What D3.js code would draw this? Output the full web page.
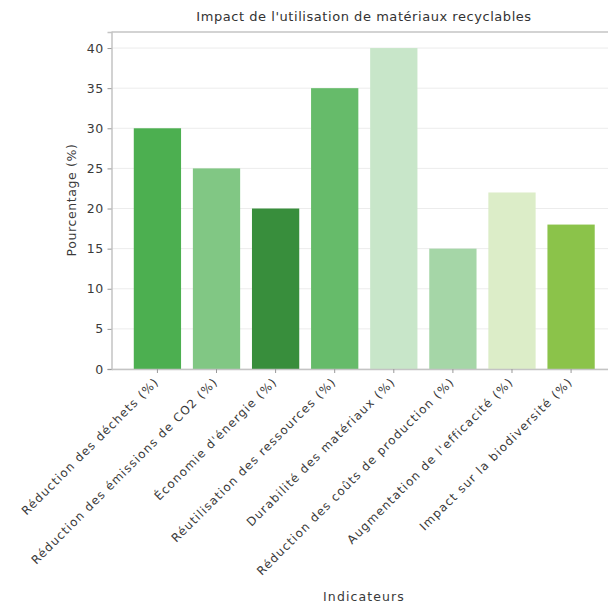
<!DOCTYPE html>
<html>
<head>
<meta charset="utf-8">
<script src="https://cdn.jsdelivr.net/npm/d3@7"></script>
<style>
  html, body { margin: 0; padding: 0; background: #fff; overflow: hidden; }
  svg { display: block; }
  text { font-family: "DejaVu Sans", "Open Sans", sans-serif; fill: #333; }
</style>
</head>
<body>
<svg id="chart" width="608" height="603"></svg>
<script>
// Indicator categories and their percentages
const categories = [
  "Réduction des déchets (%)",
  "Réduction des émissions de CO2 (%)",
  "Économie d'énergie (%)",
  "Réutilisation des ressources (%)",
  "Durabilité des matériaux (%)",
  "Réduction des coûts de production (%)",
  "Augmentation de l'efficacité (%)",
  "Impact sur la biodiversité (%)"
];
const values = [30, 25, 20, 35, 40, 15, 22, 18];
const barColors = ["#4CAF50", "#81C784", "#388E3C", "#66BB6A", "#C8E6C9", "#A5D6A7", "#DCEDC8", "#8BC34A"];
const yTicks = [0, 5, 10, 15, 20, 25, 30, 35, 40];

const title = "Impact de l'utilisation de matériaux recyclables";
const xTitle = "Indicateurs";
const yTitle = "Pourcentage (%)";

const svg = d3.select("#chart");
const plot = { left: 111.5, right: 617, top: 32, bottom: 369 };

const x = d3.scaleBand()
  .domain(categories)
  .range([plot.left, plot.right])
  .paddingInner(0.2)
  .paddingOuter(0.377);

const y = d3.scaleLinear()
  .domain([0, 42])
  .range([plot.bottom, plot.top]);

// horizontal grid
svg.append("g")
  .selectAll("line")
  .data(yTicks)
  .join("line")
  .attr("x1", plot.left)
  .attr("x2", plot.right)
  .attr("y1", d => y(d))
  .attr("y2", d => y(d))
  .attr("stroke", "#ececec")
  .attr("stroke-width", 1);

// bars
svg.append("g")
  .selectAll("rect")
  .data(values)
  .join("rect")
  .attr("x", (d, i) => x(categories[i]))
  .attr("y", d => y(d))
  .attr("width", x.bandwidth())
  .attr("height", d => y(0) - y(d))
  .attr("fill", (d, i) => barColors[i]);

// frame: top and right spines
const spine = "#c4c4c4";
svg.append("line").attr("x1", plot.left).attr("x2", plot.right).attr("y1", plot.top).attr("y2", plot.top)
  .attr("stroke", spine).attr("stroke-width", 1.5);
svg.append("line").attr("x1", plot.right).attr("x2", plot.right).attr("y1", plot.top).attr("y2", plot.bottom)
  .attr("stroke", spine).attr("stroke-width", 1.5);

// y axis
const yAxis = svg.append("g")
  .attr("transform", `translate(${plot.left},0)`)
  .call(d3.axisLeft(y).tickValues(yTicks).tickSize(4).tickPadding(4));
yAxis.select(".domain").attr("stroke", spine).attr("stroke-width", 1.5);
yAxis.selectAll(".tick line").attr("stroke", "#999");
yAxis.selectAll(".tick text")
  .attr("font-size", 12.5)
  .style("letter-spacing", "0.4px")
  .style("fill", "#3a3a3a");

// x axis
const xAxis = svg.append("g")
  .attr("transform", `translate(0,${plot.bottom})`)
  .call(d3.axisBottom(x).tickSize(4).tickPadding(4).tickSizeOuter(0));
xAxis.select(".domain").attr("stroke", spine).attr("stroke-width", 1.5);
xAxis.selectAll(".tick line").attr("stroke", "#999");
xAxis.selectAll(".tick text")
  .attr("font-size", 11.8)
  .style("letter-spacing", "1.2px")
  .style("fill", "#3a3a3a")
  .attr("text-anchor", "end")
  .attr("dy", "0.35em")
  .attr("transform", "rotate(-45)")
  .attr("x", -8)
  .attr("y", 7);

// titles
svg.append("text")
  .attr("x", 364).attr("y", 21)
  .attr("text-anchor", "middle")
  .attr("font-size", 13)
  .attr("font-weight", 500)
  .style("letter-spacing", "0.55px")
  .text(title);

svg.append("text")
  .attr("x", 364).attr("y", 601)
  .attr("text-anchor", "middle")
  .attr("font-size", 12.5)
  .style("letter-spacing", "1.1px")
  .style("fill", "#3a3a3a")
  .text(xTitle);

svg.append("text")
  .attr("transform", `translate(76,200) rotate(-90)`)
  .attr("text-anchor", "middle")
  .attr("font-size", 12.5)
  .style("letter-spacing", "0.6px")
  .style("fill", "#3a3a3a")
  .text(yTitle);
</script>
</body>
</html>
